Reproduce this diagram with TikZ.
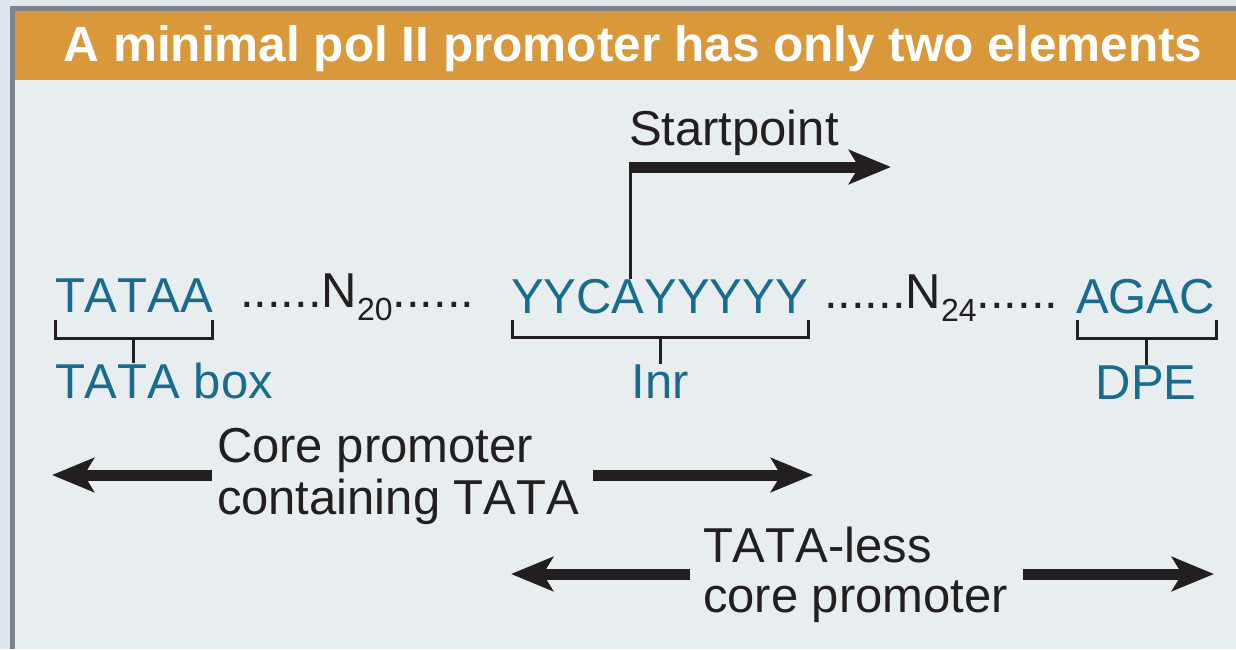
\documentclass[tikz,border=0pt]{standalone}
\usepackage{fontspec}
\setmainfont{Liberation Sans}[Kerning=Off]
\usetikzlibrary{arrows.meta}
\definecolor{seqcol}{RGB}{26,108,142}
\definecolor{ink}{RGB}{35,31,32}
\definecolor{orangebar}{RGB}{217,153,58}
\definecolor{panelbg}{RGB}{232,237,240}
\definecolor{outerbg}{RGB}{222,229,235}
\definecolor{framecol}{RGB}{126,132,138}
\newcommand{\bigtxt}{\fontsize{49}{52}\selectfont}
\newcommand{\subtxt}[1]{\raisebox{-13pt}{\fontsize{32}{32}\selectfont #1}}
\begin{document}
\begin{tikzpicture}[x=1pt,y=-1pt,
  txt/.style={inner sep=0pt,outer sep=0pt,font=\bigtxt,text=ink},
  seq/.style={txt,text=seqcol},
  brk/.style={draw=ink,line width=3pt},
  bigarrow/.style={draw=ink,line width=11pt,-{Stealth[length=42pt,width=34pt,inset=10pt]}},
]
\useasboundingbox (0,0) rectangle (1236,649);
% background and frame
\fill[outerbg] (0,0) rectangle (1236,649);
\fill[framecol] (10,6) rectangle (1236,649);
\fill[orangebar] (15,11) rectangle (1236,80);
\fill[panelbg] (15,80) rectangle (1236,649);
% title
\node[inner sep=0pt,anchor=base,text=white,font=\fontsize{49.5}{52}\selectfont\bfseries] (title) at (633,61) {A minimal pol II promoter has only two elements};
% sequence row
\node[seq,anchor=base west] (tataa) at (55,312) {TATAA};
\node[txt,anchor=base west] (n20) at (240,307) {......N\subtxt{20}......};
\node[seq,anchor=base west] (inrseq) at (511,313) {YYCAYYYYY};
\node[txt,anchor=base west] (n24) at (824,308) {......N\subtxt{24}......};
\node[seq,anchor=base west] (agac) at (1076,313) {AGAC};
% labels
\node[seq,anchor=base west] (tatabox) at (55,398) {TATA box};
\node[seq,anchor=base] (inr) at (660,398) {Inr};
\node[seq,anchor=base] (dpe) at (1146,399) {DPE};
% brackets
\draw[brk] (55,320) -- (55,338) -- (212,338) -- (212,320);
\draw[brk] (133,338) -- (tatabox.north -| 133,0);
\draw[brk] (512,320) -- (512,337) -- (808,337) -- (808,320);
\draw[brk] (660,337) -- (inr.north);
\draw[brk] (1077,320) -- (1077,338) -- (1216,338) -- (1216,320);
\draw[brk] (1146,338) -- (dpe.north);
% startpoint
\node[txt,anchor=base west] (start) at (629,145) {Startpoint};
\coordinate (corner) at (630,167);
\coordinate (startend) at (891,167);
\draw[draw=ink,line width=3pt] (inrseq.north -| corner) -- ([yshift=-5pt]corner);
\draw[bigarrow] ([xshift=-1.5pt]corner) -- (startend);
% core promoter containing TATA
\node[txt,anchor=base west] (core1) at (217,462) {Core promoter};
\node[txt,anchor=base west] (core2) at (217,514) {containing TATA};
\coordinate (cl1) at (212,475);
\coordinate (cl2) at (52,475);
\coordinate (cr1) at (593,475);
\coordinate (cr2) at (813,475);
\draw[bigarrow] (cl1) -- (cl2);
\draw[bigarrow] (cr1) -- (cr2);
% TATA-less core promoter
\node[txt,anchor=base west] (less1) at (703,562) {TATA-less};
\node[txt,anchor=base west] (less2) at (703,612) {core promoter};
\coordinate (ll1) at (690,574);
\coordinate (ll2) at (511,574);
\coordinate (lr1) at (1023,574);
\coordinate (lr2) at (1214,574);
\draw[bigarrow] (ll1) -- (ll2);
\draw[bigarrow] (lr1) -- (lr2);
\end{tikzpicture}
\end{document}
